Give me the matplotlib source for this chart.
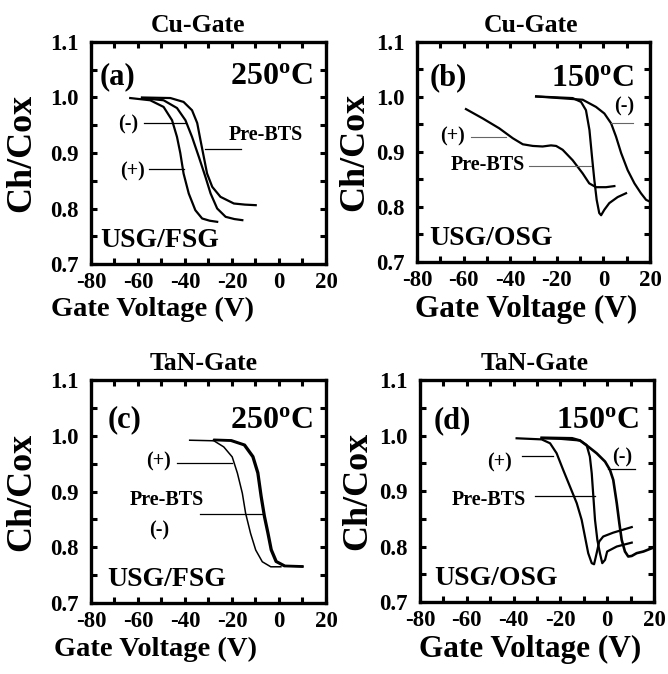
import matplotlib
matplotlib.use("Agg")
import matplotlib.pyplot as plt
from matplotlib.ticker import MultipleLocator

plt.rcParams['font.family'] = ['Liberation Serif', 'DejaVu Serif']
plt.rcParams['font.weight'] = 'bold'
plt.rcParams['axes.unicode_minus'] = False
plt.rcParams['mathtext.fontset'] = 'custom'
plt.rcParams['mathtext.rm'] = 'Liberation Serif:bold'
plt.rcParams['mathtext.it'] = 'Liberation Serif:bold'
plt.rcParams['mathtext.bf'] = 'Liberation Serif:bold'

# ---- data: gate voltage (V) vs Ch/Cox ----
# (a) Cu-gate, USG/FSG, 250 C
a_plus_v = [-63.3, -54.8, -49.1, -45.5, -43.4, -42.0, -40.6, -38.4, -35.6, -32.7, -29.5, -26.3]
a_plus_c = [0.999, 0.995, 0.983, 0.959, 0.929, 0.900, 0.863, 0.827, 0.797, 0.782, 0.778, 0.776]
a_minus_v = [-58.3, -49.1, -43.4, -39.8, -37.0, -34.1, -31.3, -29.1, -26.3, -22.7, -19.0, -15.6]
a_minus_c = [0.999, 0.995, 0.981, 0.959, 0.929, 0.893, 0.857, 0.827, 0.800, 0.785, 0.781, 0.779]
a_pre_v = [-58.3, -46.2, -40.6, -37.0, -34.8, -33.4, -32.0, -30.6, -28.4, -24.9, -19.2, -14.5, -9.9]
a_pre_c = [1.000, 0.999, 0.992, 0.977, 0.954, 0.923, 0.893, 0.863, 0.839, 0.821, 0.809, 0.807, 0.806]

# (b) Cu-gate, USG/OSG, 150 C
b_plus_v = [-59.0, -51.8, -44.7, -38.9, -34.6, -30.3, -26.1, -22.5, -20.3, -17.5, -13.2, -8.9, -6.1, -3.2, 1.1, 4.7]
b_plus_c = [0.978, 0.961, 0.943, 0.925, 0.914, 0.911, 0.910, 0.912, 0.911, 0.904, 0.885, 0.861, 0.843, 0.836, 0.836, 0.838]
b_pre_v = [-28.9, -13.2, -9.6, -7.5, -6.0, -4.9, -3.9, -2.9, -1.8, -1.0, 0.4, 2.5, 6.1, 9.7]
b_pre_c = [1.001, 0.998, 0.991, 0.976, 0.940, 0.891, 0.849, 0.813, 0.789, 0.785, 0.795, 0.807, 0.818, 0.825]
b_minus_v = [-28.9, -8.9, -3.2, 0.4, 3.3, 5.4, 7.6, 10.4, 13.3, 16.1, 18.3, 19.8]
b_minus_c = [1.001, 0.995, 0.982, 0.970, 0.952, 0.928, 0.898, 0.867, 0.843, 0.825, 0.813, 0.810]

# (c) TaN-gate, USG/FSG, 250 C
c_plus_v = [-38.0, -27.7, -23.5, -19.9, -17.7, -15.6, -14.2, -12.1, -9.9, -7.1, -3.5, 0.8]
c_plus_c = [0.992, 0.991, 0.980, 0.962, 0.933, 0.897, 0.861, 0.825, 0.795, 0.774, 0.765, 0.765]
c_pre_v = [-27.7, -20.6, -14.9, -11.3, -9.2, -7.8, -6.4, -4.9, -3.5, -1.4, 2.2, 10.0]
c_pre_c = [0.992, 0.991, 0.983, 0.962, 0.933, 0.891, 0.855, 0.825, 0.795, 0.774, 0.766, 0.765]
c_minus_v = [-27.5, -20.2, -14.5, -10.9, -8.8, -7.4, -6.0, -4.5, -3.1, -1.0, 2.6, 10.0]
c_minus_c = [0.993, 0.992, 0.984, 0.963, 0.934, 0.892, 0.856, 0.826, 0.796, 0.775, 0.767, 0.766]

# (d) TaN-gate, USG/OSG, 150 C
d_plus_v = [-38.7, -28.0, -24.4, -21.6, -18.8, -15.9, -13.0, -10.9, -9.5, -8.1, -6.6, -5.6, -4.5, -3.4, -1.7, 2.6, 10.5]
d_plus_c = [0.995, 0.993, 0.986, 0.968, 0.938, 0.908, 0.878, 0.848, 0.818, 0.788, 0.770, 0.768, 0.788, 0.809, 0.818, 0.825, 0.835]
d_pre_v = [-28.0, -20.0, -11.6, -8.8, -7.4, -6.6, -5.9, -5.2, -4.2, -3.1, -2.1, -0.9, 0.0, 4.1, 10.5]
d_pre_c = [0.995, 0.994, 0.991, 0.983, 0.962, 0.932, 0.890, 0.848, 0.812, 0.788, 0.770, 0.776, 0.791, 0.800, 0.807]
d_minus_v = [-28.0, -15.0, -11.6, -8.1, -4.5, -0.9, 1.2, 2.6, 4.1, 5.2, 6.2, 7.6, 9.0, 10.5, 12.6, 15.5, 19.1, 20.0]
d_minus_c = [0.996, 0.995, 0.991, 0.980, 0.968, 0.953, 0.938, 0.920, 0.878, 0.842, 0.812, 0.791, 0.782, 0.783, 0.788, 0.791, 0.797, 0.799]

x_ticks = [-80, -60, -40, -20, 0, 20]
y_ticks = [0.7, 0.8, 0.9, 1.0, 1.1]

fig = plt.figure(figsize=(6.68, 6.74), dpi=100)


def setup(ax, title, title_x, ylab_x, xlab_x, xlab_size):
    ax.set_xlim(-80, 20)
    ax.set_ylim(0.7, 1.1)
    ax.set_xticks(x_ticks)
    ax.set_yticks(y_ticks)
    ax.set_yticklabels(['%.1f' % t for t in y_ticks])
    ax.xaxis.set_minor_locator(MultipleLocator(10))
    ax.yaxis.set_minor_locator(MultipleLocator(0.05))
    ax.tick_params(which='both', direction='in', top=True, right=True,
                   length=4, width=2.2, labelsize=16.5)
    ax.tick_params(axis='y', pad=9)
    ax.tick_params(axis='x', pad=6)
    for s in ax.spines.values():
        s.set_linewidth(2.4)
    ax.set_title(title, fontsize=18.5, fontweight='bold', pad=7, x=title_x)
    ax.set_ylabel('Ch/Cox', fontsize=26, fontweight='bold')
    ax.yaxis.set_label_coords(ylab_x, 0.5)
    ax.set_xlabel('Gate Voltage (V)', fontsize=xlab_size, fontweight='bold')
    ax.xaxis.set_label_coords(xlab_x, -0.15)


def corner_text(ax, letter, temp, film, ly, lx, tx):
    ax.text(lx, ly, letter, transform=ax.transAxes, fontsize=22,
            ha='left', va='center')
    ax.text(tx, ly, temp, transform=ax.transAxes, fontsize=23,
            ha='right', va='center')
    ax.text(lx, 0.105, film, transform=ax.transAxes, fontsize=20,
            ha='left', va='center')


def tag(ax, text, tx, ty, x0, x1, y, color='black', lw=0.9):
    ax.plot([x0, x1], [y, y], color=color, lw=lw)
    ax.text(tx, ty, text, fontsize=14.5, ha='center', va='center')


# (a)
ax = fig.add_axes([0.1362, 0.6083, 0.3518, 0.3294])
setup(ax, 'Cu-Gate', 0.455, -0.225, 0.26, 20.5)
ax.plot(a_plus_v, a_plus_c, color='black', lw=1.6)
ax.plot(a_minus_v, a_minus_c, color='black', lw=1.6)
ax.plot(a_pre_v, a_pre_c, color='black', lw=1.6)
corner_text(ax, '(a)', r'250$^{o}$C', 'USG/FSG', 0.845, 0.038, 0.945)
tag(ax, '(-)', -64.2, 0.952, -57.6, -39.8, 0.954)
tag(ax, '(+)', -62.5, 0.866, -55.5, -40.6, 0.871)
tag(ax, 'Pre-BTS', -5.6, 0.932, -31.3, -16.3, 0.908)

# (b)
ax = fig.add_axes([0.6243, 0.6113, 0.3488, 0.3264])
setup(ax, 'Cu-Gate', 0.49, -0.195, 0.47, 22.5)
ax.plot(b_plus_v, b_plus_c, color='black', lw=1.6)
ax.plot(b_pre_v, b_pre_c, color='black', lw=1.6)
ax.plot(b_minus_v, b_minus_c, color='black', lw=1.6)
corner_text(ax, '(b)', r'150$^{o}$C', 'USG/OSG', 0.836, 0.052, 0.93)
tag(ax, '(+)', -64.8, 0.928, -56.8, -41.8, 0.927, color='#666666', lw=0.8)
tag(ax, 'Pre-BTS', -49.8, 0.876, -31.8, -5.3, 0.875, color='#666666', lw=0.8)
tag(ax, '(-)', 8.8, 0.982, 3.3, 12.6, 0.953, color='#666666', lw=0.8)

# (c)
ax = fig.add_axes([0.1362, 0.1053, 0.3518, 0.3309])
setup(ax, 'TaN-Gate', 0.48, -0.225, 0.275, 20.5)
ax.plot(c_plus_v, c_plus_c, color='black', lw=1.1)
ax.plot(c_pre_v, c_pre_c, color='black', lw=1.6)
ax.plot(c_minus_v, c_minus_c, color='black', lw=1.6)
corner_text(ax, '(c)', r'250$^{o}$C', 'USG/FSG', 0.82, 0.07, 0.945)
tag(ax, '(+)', -51.2, 0.953, -43.4, -19.9, 0.952)
tag(ax, 'Pre-BTS', -47.6, 0.884, -33.4, -7.1, 0.859)
ax.text(-50.9, 0.830, '(-)', fontsize=14.5, ha='center', va='center')

# (d)
ax = fig.add_axes([0.6287, 0.1068, 0.3503, 0.3294])
setup(ax, 'TaN-Gate', 0.49, -0.197, 0.47, 22.5)
ax.plot(d_plus_v, d_plus_c, color='black', lw=1.6)
ax.plot(d_pre_v, d_pre_c, color='black', lw=1.6)
ax.plot(d_minus_v, d_minus_c, color='black', lw=1.9)
corner_text(ax, '(d)', r'150$^{o}$C', 'USG/OSG', 0.818, 0.06, 0.936)
tag(ax, '(+)', -46.2, 0.952, -36.5, -23.0, 0.963)
tag(ax, '(-)', 6.5, 0.961, 0.5, 11.9, 0.939)
tag(ax, 'Pre-BTS', -50.5, 0.883, -30.9, -5.2, 0.891)

fig.savefig('out.png', dpi=100)
